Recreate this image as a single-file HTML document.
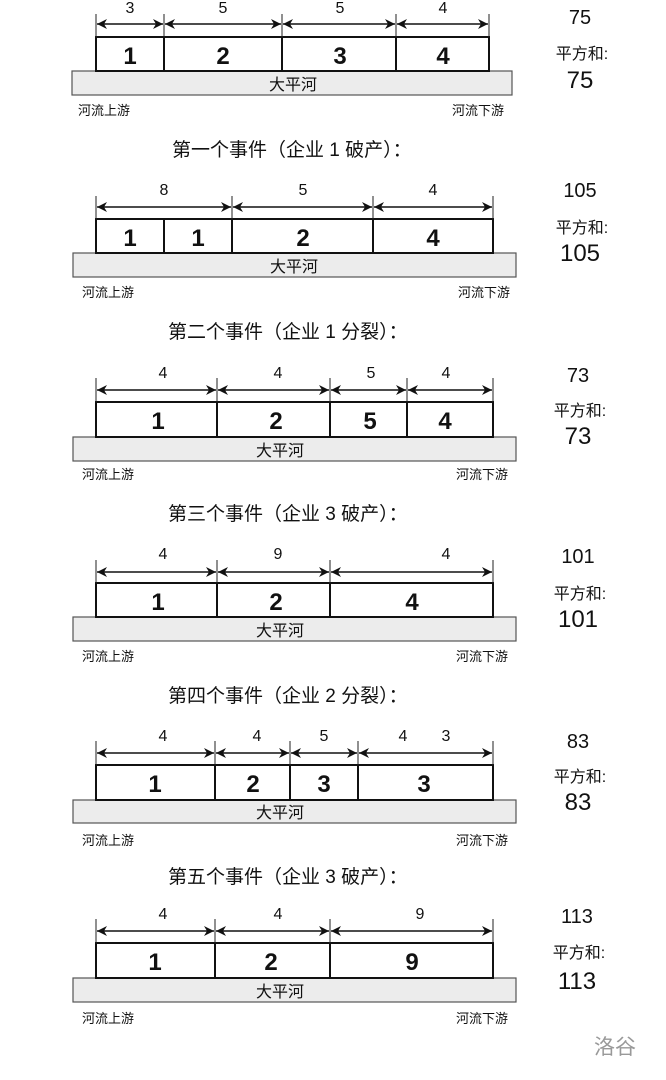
<!DOCTYPE html>
<html><head><meta charset="utf-8"><style>
html,body{margin:0;padding:0;background:#fff;}
svg{display:block;}
text{font-family:"Liberation Sans","Noto Sans CJK SC",sans-serif;fill:#111;}
.d{font-size:16px;text-anchor:middle;}
.n{font-size:24px;font-weight:bold;text-anchor:middle;}
.r{font-size:16px;text-anchor:middle;}
.u{font-size:13px;}
.t{font-size:19px;}
.s{font-size:20px;text-anchor:middle;}
.b{font-size:24px;text-anchor:middle;}
.p{font-size:16px;text-anchor:middle;}
.box{fill:#fff;stroke:#111;stroke-width:2;}
.rv{fill:#ececec;stroke:#555;stroke-width:1.2;}
.tk{stroke:#222;stroke-width:1;}
.ar{stroke:#111;stroke-width:1.5;marker-start:url(#ms);marker-end:url(#me);}
.dv{stroke:#111;stroke-width:2;}
</style></head><body>
<svg width="666" height="1080" viewBox="0 0 666 1080" xmlns="http://www.w3.org/2000/svg">
<defs>
<marker id="me" viewBox="0 0 10 10" refX="10" refY="5" markerWidth="12" markerHeight="10" markerUnits="userSpaceOnUse" orient="auto"><path d="M0,0 L10,5 L0,10 L3,5 z" fill="#111"/></marker>
<marker id="ms" viewBox="0 0 10 10" refX="0" refY="5" markerWidth="12" markerHeight="10" markerUnits="userSpaceOnUse" orient="auto"><path d="M10,0 L0,5 L10,10 L7,5 z" fill="#111"/></marker>
</defs>

<!-- Panel 0 -->
<g>
<rect class="rv" x="72" y="71" width="440" height="24"/>
<text class="r" x="293" y="90">大平河</text>
<rect class="box" x="96" y="37" width="393" height="34"/>
<line class="dv" x1="164" y1="37" x2="164" y2="71"/><line class="dv" x1="282" y1="37" x2="282" y2="71"/><line class="dv" x1="396" y1="37" x2="396" y2="71"/>
<line class="tk" x1="96" y1="14" x2="96" y2="37"/><line class="tk" x1="164" y1="14" x2="164" y2="37"/><line class="tk" x1="282" y1="14" x2="282" y2="37"/><line class="tk" x1="396" y1="14" x2="396" y2="37"/><line class="tk" x1="489" y1="14" x2="489" y2="37"/>
<line class="ar" x1="97" y1="24" x2="163" y2="24"/><line class="ar" x1="165" y1="24" x2="281" y2="24"/><line class="ar" x1="283" y1="24" x2="395" y2="24"/><line class="ar" x1="397" y1="24" x2="488" y2="24"/>
<text class="d" x="130" y="13">3</text><text class="d" x="223" y="13">5</text><text class="d" x="340" y="13">5</text><text class="d" x="443" y="13">4</text>
<text class="n" x="130" y="64">1</text><text class="n" x="223" y="64">2</text><text class="n" x="340" y="64">3</text><text class="n" x="443" y="64">4</text>
<text class="u" x="78" y="115">河流上游</text><text class="u" x="452" y="115">河流下游</text>
<text class="s" x="580" y="24">75</text><text class="p" x="582" y="59">平方和:</text><text class="b" x="580" y="88">75</text>
</g>

<text class="t" x="172" y="156">第一个事件（企业 1 破产）：</text>

<!-- Panel 1 -->
<g>
<rect class="rv" x="73" y="253" width="443" height="24"/>
<text class="r" x="294" y="272">大平河</text>
<rect class="box" x="96" y="219" width="397" height="34"/>
<line class="dv" x1="164" y1="219" x2="164" y2="253"/><line class="dv" x1="232" y1="219" x2="232" y2="253"/><line class="dv" x1="373" y1="219" x2="373" y2="253"/>
<line class="tk" x1="96" y1="196" x2="96" y2="219"/><line class="tk" x1="232" y1="196" x2="232" y2="219"/><line class="tk" x1="373" y1="196" x2="373" y2="219"/><line class="tk" x1="493" y1="196" x2="493" y2="219"/>
<line class="ar" x1="97" y1="207" x2="231" y2="207"/><line class="ar" x1="233" y1="207" x2="372" y2="207"/><line class="ar" x1="374" y1="207" x2="492" y2="207"/>
<text class="d" x="164" y="195">8</text><text class="d" x="303" y="195">5</text><text class="d" x="433" y="195">4</text>
<text class="n" x="130" y="246">1</text><text class="n" x="198" y="246">1</text><text class="n" x="303" y="246">2</text><text class="n" x="433" y="246">4</text>
<text class="u" x="82" y="297">河流上游</text><text class="u" x="458" y="297">河流下游</text>
<text class="s" x="580" y="197">105</text><text class="p" x="582" y="233">平方和:</text><text class="b" x="580" y="261">105</text>
</g>

<text class="t" x="168" y="338">第二个事件（企业 1 分裂）：</text>

<!-- Panel 2 -->
<g>
<rect class="rv" x="73" y="437" width="443" height="24"/>
<text class="r" x="280" y="456">大平河</text>
<rect class="box" x="96" y="402" width="397" height="35"/>
<line class="dv" x1="217" y1="402" x2="217" y2="437"/><line class="dv" x1="330" y1="402" x2="330" y2="437"/><line class="dv" x1="407" y1="402" x2="407" y2="437"/>
<line class="tk" x1="96" y1="378" x2="96" y2="402"/><line class="tk" x1="217" y1="378" x2="217" y2="402"/><line class="tk" x1="330" y1="378" x2="330" y2="402"/><line class="tk" x1="407" y1="378" x2="407" y2="402"/><line class="tk" x1="493" y1="378" x2="493" y2="402"/>
<line class="ar" x1="97" y1="390" x2="216" y2="390"/><line class="ar" x1="218" y1="390" x2="329" y2="390"/><line class="ar" x1="331" y1="390" x2="406" y2="390"/><line class="ar" x1="408" y1="390" x2="492" y2="390"/>
<text class="d" x="163" y="378">4</text><text class="d" x="278" y="378">4</text><text class="d" x="371" y="378">5</text><text class="d" x="446" y="378">4</text>
<text class="n" x="158" y="429">1</text><text class="n" x="276" y="429">2</text><text class="n" x="370" y="429">5</text><text class="n" x="445" y="429">4</text>
<text class="u" x="82" y="479">河流上游</text><text class="u" x="456" y="479">河流下游</text>
<text class="s" x="578" y="382">73</text><text class="p" x="580" y="416">平方和:</text><text class="b" x="578" y="444">73</text>
</g>

<text class="t" x="168" y="520">第三个事件（企业 3 破产）：</text>

<!-- Panel 3 -->
<g>
<rect class="rv" x="73" y="617" width="443" height="24"/>
<text class="r" x="280" y="636">大平河</text>
<rect class="box" x="96" y="583" width="397" height="34"/>
<line class="dv" x1="217" y1="583" x2="217" y2="617"/><line class="dv" x1="330" y1="583" x2="330" y2="617"/>
<line class="tk" x1="96" y1="560" x2="96" y2="583"/><line class="tk" x1="217" y1="560" x2="217" y2="583"/><line class="tk" x1="330" y1="560" x2="330" y2="583"/><line class="tk" x1="493" y1="560" x2="493" y2="583"/>
<line class="ar" x1="97" y1="572" x2="216" y2="572"/><line class="ar" x1="218" y1="572" x2="329" y2="572"/><line class="ar" x1="331" y1="572" x2="492" y2="572"/>
<text class="d" x="163" y="559">4</text><text class="d" x="278" y="559">9</text><text class="d" x="446" y="559">4</text>
<text class="n" x="158" y="610">1</text><text class="n" x="276" y="610">2</text><text class="n" x="412" y="610">4</text>
<text class="u" x="82" y="661">河流上游</text><text class="u" x="456" y="661">河流下游</text>
<text class="s" x="578" y="563">101</text><text class="p" x="580" y="599">平方和:</text><text class="b" x="578" y="627">101</text>
</g>

<text class="t" x="168" y="702">第四个事件（企业 2 分裂）：</text>

<!-- Panel 4 -->
<g>
<rect class="rv" x="73" y="800" width="443" height="23"/>
<text class="r" x="280" y="818">大平河</text>
<rect class="box" x="96" y="765" width="397" height="35"/>
<line class="dv" x1="215" y1="765" x2="215" y2="800"/><line class="dv" x1="290" y1="765" x2="290" y2="800"/><line class="dv" x1="358" y1="765" x2="358" y2="800"/>
<line class="tk" x1="96" y1="741" x2="96" y2="765"/><line class="tk" x1="215" y1="741" x2="215" y2="765"/><line class="tk" x1="290" y1="741" x2="290" y2="765"/><line class="tk" x1="358" y1="741" x2="358" y2="765"/><line class="tk" x1="493" y1="741" x2="493" y2="765"/>
<line class="ar" x1="97" y1="753" x2="214" y2="753"/><line class="ar" x1="216" y1="753" x2="289" y2="753"/><line class="ar" x1="291" y1="753" x2="357" y2="753"/><line class="ar" x1="359" y1="753" x2="492" y2="753"/>
<text class="d" x="163" y="741">4</text><text class="d" x="257" y="741">4</text><text class="d" x="324" y="741">5</text><text class="d" x="403" y="741">4</text><text class="d" x="446" y="741">3</text>
<text class="n" x="155" y="792">1</text><text class="n" x="253" y="792">2</text><text class="n" x="324" y="792">3</text><text class="n" x="424" y="792">3</text>
<text class="u" x="82" y="845">河流上游</text><text class="u" x="456" y="845">河流下游</text>
<text class="s" x="578" y="748">83</text><text class="p" x="580" y="782">平方和:</text><text class="b" x="578" y="810">83</text>
</g>

<text class="t" x="168" y="883">第五个事件（企业 3 破产）：</text>

<!-- Panel 5 -->
<g>
<rect class="rv" x="73" y="978" width="443" height="24"/>
<text class="r" x="280" y="997">大平河</text>
<rect class="box" x="96" y="943" width="397" height="35"/>
<line class="dv" x1="215" y1="943" x2="215" y2="978"/><line class="dv" x1="330" y1="943" x2="330" y2="978"/>
<line class="tk" x1="96" y1="919" x2="96" y2="943"/><line class="tk" x1="215" y1="919" x2="215" y2="943"/><line class="tk" x1="330" y1="919" x2="330" y2="943"/><line class="tk" x1="493" y1="919" x2="493" y2="943"/>
<line class="ar" x1="97" y1="931" x2="214" y2="931"/><line class="ar" x1="216" y1="931" x2="329" y2="931"/><line class="ar" x1="331" y1="931" x2="492" y2="931"/>
<text class="d" x="163" y="919">4</text><text class="d" x="278" y="919">4</text><text class="d" x="420" y="919">9</text>
<text class="n" x="155" y="970">1</text><text class="n" x="271" y="970">2</text><text class="n" x="412" y="970">9</text>
<text class="u" x="82" y="1023">河流上游</text><text class="u" x="456" y="1023">河流下游</text>
<text class="s" x="577" y="923">113</text><text class="p" x="579" y="958">平方和:</text><text class="b" x="577" y="989">113</text>
</g>

<text x="594" y="1054" style="font-size:21px;fill:#999;">洛谷</text>
</svg>
</body></html>
